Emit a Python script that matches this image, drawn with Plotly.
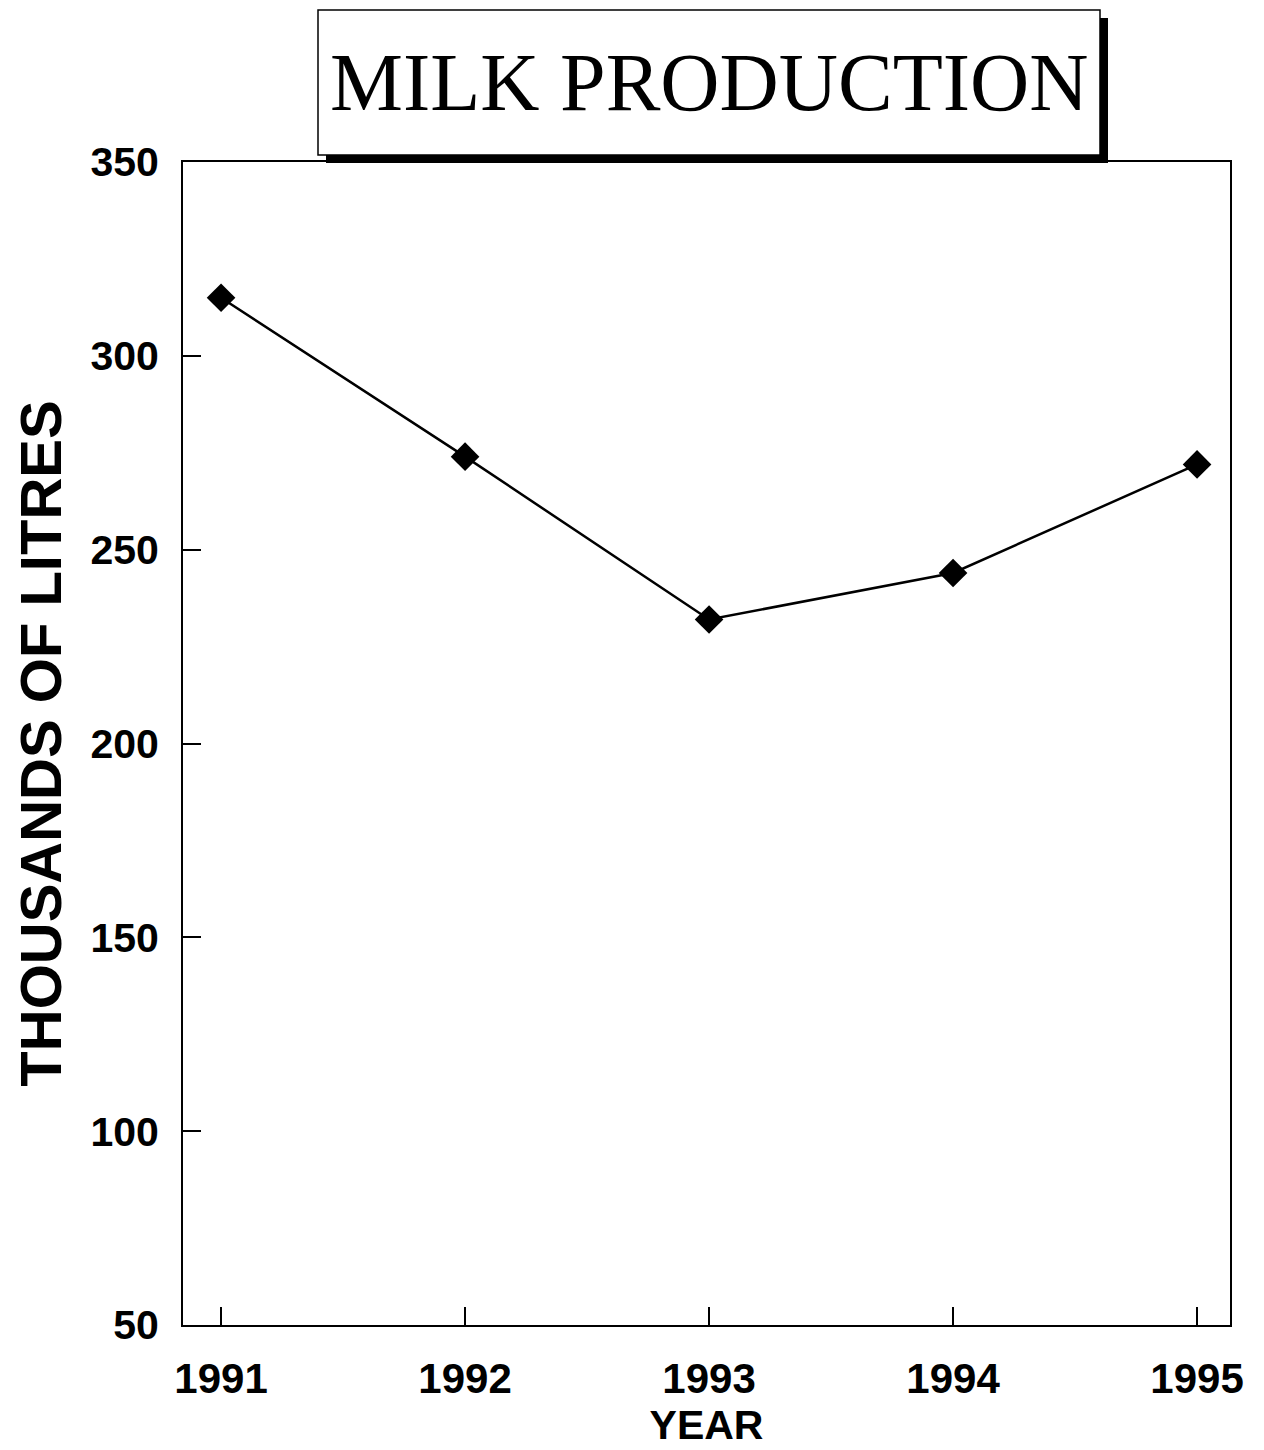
import plotly.graph_objects as go

years = [1991, 1992, 1993, 1994, 1995]
milk = [315, 274, 232, 244, 272]
y_ticks = [50, 100, 150, 200, 250, 300, 350]
title_text = "MILK PRODUCTION"
x_title = "YEAR"
y_title = "THOUSANDS OF LITRES"

W, H = 1264, 1450
OFF = 8  # page body offset
L, R, T, B = 183 - OFF, 1230 - OFF, 162 - OFF, 1325 - OFF

def px(x):
    return (x - OFF - L) / (R - L)

def py(y):
    return (B - (y - OFF)) / (B - T)

fig = go.Figure()
fig.add_trace(go.Scatter(
    x=years, y=milk, mode="lines+markers",
    line=dict(color="black", width=2.5),
    marker=dict(symbol="diamond", size=22, color="black"),
    showlegend=False,
))

sans = "Liberation Sans, Arial, sans-serif"

fig.update_layout(
    width=W, height=H,
    margin=dict(l=L, r=W - R, t=T, b=H - B, autoexpand=False),
    paper_bgcolor="white", plot_bgcolor="white",
    xaxis=dict(
        range=[1990.844, 1995.135], tickvals=years, ticktext=[str(y) for y in years],
        ticks="inside", ticklen=18, tickwidth=1.5, tickcolor="black",
        showline=True, linecolor="black", linewidth=2, mirror=True,
        showgrid=False, zeroline=False,
        tickfont=dict(family=sans, size=42, color="black", weight="bold"),
        ticklabelstandoff=16,
        title=dict(text="<b>" + x_title + "</b>", font=dict(family=sans, size=41, color="black"), standoff=2),
    ),
    yaxis=dict(
        range=[50, 350], tickvals=y_ticks,
        ticks="inside", ticklen=18, tickwidth=1.5, tickcolor="black",
        showline=True, linecolor="black", linewidth=2, mirror=True,
        showgrid=False, zeroline=False,
        tickfont=dict(family=sans, size=41, color="black", weight="bold"),
        ticklabelstandoff=14,
        title=dict(text="<b>" + y_title + "</b>", font=dict(family=sans, size=58, color="black"), standoff=22),
    ),
    shapes=[
        dict(type="rect", xref="paper", yref="paper",
             x0=px(326), x1=px(1108), y0=py(163), y1=py(18),
             fillcolor="black", line=dict(width=0)),
        dict(type="rect", xref="paper", yref="paper",
             x0=px(318), x1=px(1100), y0=py(155), y1=py(10),
             fillcolor="white", line=dict(color="black", width=1.5)),
    ],
    annotations=[
        dict(text=title_text, xref="paper", yref="paper",
             x=px(709), y=py(82), xanchor="center", yanchor="middle",
             showarrow=False,
             font=dict(family="Liberation Serif, Times New Roman, serif", size=82, color="black")),
    ],
)

fig.write_html("out.html")
